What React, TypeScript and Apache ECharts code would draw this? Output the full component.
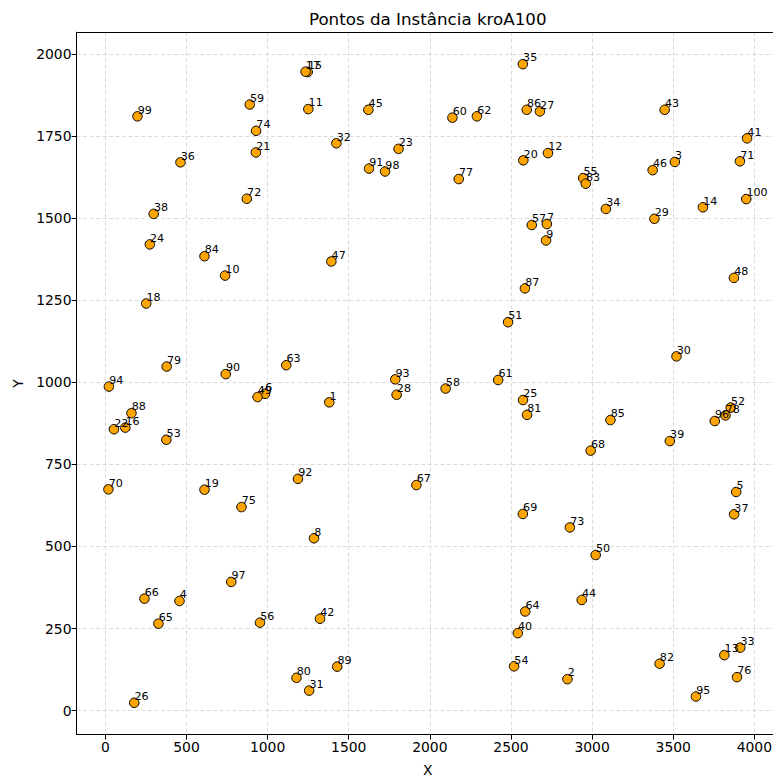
import React, { useEffect, useRef } from "react";
import * as echarts from "echarts";

const xCoords = [
  1380, 2848, 3510, 457, 3888, 984, 2721, 1286, 2716, 738,
  1251, 2728, 3815, 3683, 1247, 123, 1234, 252, 611, 2576,
  928, 53, 1807, 274, 2574, 178, 2678, 1795, 3384, 3520,
  1256, 1424, 3913, 3085, 2573, 463, 3875, 298, 3479, 2542,
  3955, 1323, 3447, 2936, 1621, 3373, 1393, 3874, 938, 3022,
  2482, 3854, 376, 2519, 2945, 953, 2628, 2097, 890, 2139,
  2421, 2290, 1115, 2588, 327, 241, 1917, 2991, 2573, 19,
  3911, 872, 2863, 929, 839, 3893, 2178, 3822, 378, 1178,
  2599, 3416, 2961, 611, 3113, 2597, 2586, 161, 1429, 742,
  1625, 1187, 1787, 22, 3640, 3756, 776, 1724, 198, 3950,
];
const yCoords = [
  939, 96, 1671, 334, 666, 965, 1482, 525, 1432, 1325,
  1832, 1698, 169, 1533, 1945, 862, 1946, 1240, 673, 1676,
  1700, 857, 1711, 1420, 946, 24, 1825, 962, 1498, 1079,
  61, 1728, 192, 1528, 1969, 1670, 598, 1513, 821, 236,
  1743, 280, 1830, 337, 1830, 1646, 1368, 1318, 955, 474,
  1183, 923, 825, 135, 1622, 268, 1479, 981, 1846, 1806,
  1007, 1810, 1052, 302, 265, 341, 687, 792, 599, 674,
  1673, 1559, 558, 1766, 620, 102, 1619, 899, 1048, 100,
  901, 143, 1605, 1384, 885, 1830, 1286, 906, 134, 1025,
  1651, 706, 1009, 987, 43, 882, 392, 1642, 1810, 1558,
];
const xTicks = [0, 500, 1000, 1500, 2000, 2500, 3000, 3500, 4000];
const yTicks = [0, 250, 500, 750, 1000, 1250, 1500, 1750, 2000];
const titleText = "Pontos da Instância kroA100";
const xName = "X";
const yName = "Y";

const FONT = "DejaVu Sans";

export default function App() {
  const ref = useRef<HTMLDivElement>(null);
  useEffect(() => {
    const chart = echarts.init(ref.current!, null, { renderer: "svg" });
    const xmin = Math.min(...xCoords), xmax = Math.max(...xCoords);
    const ymin = Math.min(...yCoords), ymax = Math.max(...yCoords);
    const xm = (xmax - xmin) * 0.05, ym = (ymax - ymin) * 0.05;
    const data = xCoords.map((x, i) => ({ value: [x, yCoords[i]], name: String(i + 1) }));
    const gridLeft = 76.5, gridTop = 32.2, gridW = 702.5, gridH = 702.5;
    const splitLine = { show: true, lineStyle: { color: "#d3d3d3", width: 0.8, type: [4, 2.5] } };
    const axisCommon = {
      axisLine: { show: true, onZero: false, lineStyle: { color: "#000", width: 1 } },
      axisTick: { show: true, length: 4.9, inside: false, lineStyle: { color: "#000", width: 1 } },
      axisLabel: { color: "#000", fontFamily: FONT, fontSize: 13.9, margin: 5, formatter: (v: number) => String(v) },
      nameTextStyle: { color: "#000", fontFamily: FONT, fontSize: 13.9 },
    };
    chart.setOption({
      animation: false,
      backgroundColor: "#fff",
      grid: { left: gridLeft, top: gridTop, width: gridW, height: gridH, containLabel: false, outerBoundsMode: "none" },
      graphic: [
        {
          type: "text",
          x: gridLeft + gridW / 2,
          y: 27,
          style: {
            text: titleText,
            font: `16.7px '${FONT}'`,
            fill: "#000",
            align: "center",
            verticalAlign: "bottom",
            textAlign: "center",
            textVerticalAlign: "bottom",
          },
        },
      ],
      xAxis: [
        {
          type: "value",
          min: xmin - xm,
          max: xmax + xm,
          position: "bottom",
          name: xName,
          nameLocation: "middle",
          nameGap: 28,
          ...axisCommon,
          axisTick: { ...axisCommon.axisTick, customValues: xTicks },
          axisLabel: { ...axisCommon.axisLabel, customValues: xTicks },
          splitLine,
        },
        {
          type: "value",
          min: xmin - xm,
          max: xmax + xm,
          position: "top",
          axisLine: { show: true, onZero: false, lineStyle: { color: "#000", width: 1 } },
          axisTick: { show: false },
          axisLabel: { show: false },
          splitLine: { show: false },
        },
      ],
      yAxis: {
        type: "value",
        min: ymin - ym,
        max: ymax + ym,
        name: yName,
        nameLocation: "middle",
        nameGap: 51,
        ...axisCommon,
        axisTick: { ...axisCommon.axisTick, customValues: yTicks },
        axisLabel: { ...axisCommon.axisLabel, customValues: yTicks },
        splitLine,
      },
      series: [
        {
          type: "scatter",
          xAxisIndex: 0,
          data,
          symbol: "circle",
          symbolSize: 9.5,
          itemStyle: { color: "#FFA500", borderColor: "#000", borderWidth: 1, opacity: 1 },
          label: {
            show: true,
            formatter: (p: any) => p.name,
            position: [5.5, 4.5],
            align: "left",
            verticalAlign: "bottom",
            color: "#000",
            fontFamily: FONT,
            fontSize: 11.1,
          },
          emphasis: { disabled: true },
        },
      ],
    });
    return () => chart.dispose();
  }, []);
  return <div ref={ref} style={{ position: "absolute", left: 0, top: 0, width: 773, height: 776 }} />;
}
